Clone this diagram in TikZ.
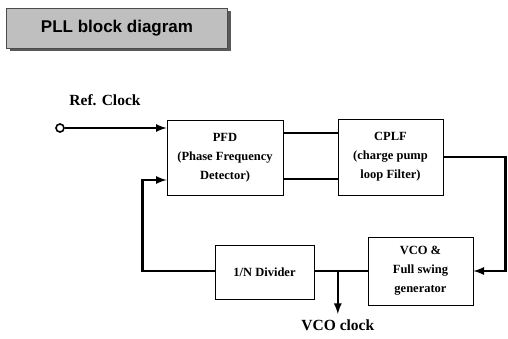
\documentclass[tikz,border=0pt]{standalone}
\usepackage{fontspec}
\setmainfont{Liberation Serif}
\setsansfont{Liberation Sans}
\usetikzlibrary{calc, shadows, positioning}

\tikzset{
    blk/.style={draw, line width=0.8pt, align=center, inner sep=1pt,
        font=\bfseries\fontsize{12.5}{19}\selectfont},
    wire/.style={line width=2.6pt},
    lbl/.style={font=\bfseries\fontsize{15.5}{18}\selectfont}
}

\begin{document}
\begin{tikzpicture}[>=latex, x=1pt, y=-1pt]
    \useasboundingbox (0,0) rectangle (508,338);

    % Tiêu đề
    \node[draw=black!70, fill=black!25, minimum width=221pt, minimum height=40pt,
        font=\sffamily\bfseries\fontsize{17}{20}\selectfont,
        drop shadow={shadow xshift=3pt, shadow yshift=-3pt, fill=black!65, opacity=1}]
        (title) at (117,28) {PLL block diagram};

    % Các khối
    \node[blk, minimum width=116pt, minimum height=75pt] (pfd) at (225,157.5)
        {PFD\\(Phase Frequency\\Detector)};
    \node[blk, minimum width=105pt, minimum height=76pt] (cplf) at (390.5,157)
        {CPLF\\(charge pump\\loop Filter)};
    \node[blk, minimum width=105pt, minimum height=68pt] (vco) at (420.5,271)
        {VCO \&\\Full swing\\generator};
    \node[blk, minimum width=99pt, minimum height=54pt] (div) at (264.5,272)
        {1/N Divider};

    % Ngõ vào
    \node[circle, draw, line width=1.6pt, inner sep=0pt, minimum size=8pt] (ref) at (60,128) {};
    \node[lbl] (reflbl) at (105,100) {Ref. Clock};
    \draw[wire, ->] (ref) -- (pfd.west |- ref);

    % PFD -> CPLF
    \coordinate (up) at ([yshift=24.5pt]pfd.east);
    \coordinate (dn) at ([yshift=-21.5pt]pfd.east);
    \draw[wire] (up) -- (up -| cplf.west);
    \draw[wire] (dn) -- (dn -| cplf.west);

    % CPLF -> VCO
    \draw[wire, ->] (cplf.east) -- ++(62,0) |- (vco.east);

    % VCO -> chia N -> PFD
    \draw[wire] (vco.west) -- (div.east |- vco.west);
    \coordinate (fbin) at ([yshift=-22.5pt]pfd.west);
    \draw[wire, ->] (div.west |- vco.west) -- ++(-72,0) |- (fbin);

    % Ngõ ra
    \coordinate (tap) at ($(div.east |- vco.west)!0.44!(vco.west)$);
    \draw[wire, ->] (tap) -- ++(0,43) node[lbl, below=1pt] (vcoclk) {VCO clock};
\end{tikzpicture}
\end{document}
